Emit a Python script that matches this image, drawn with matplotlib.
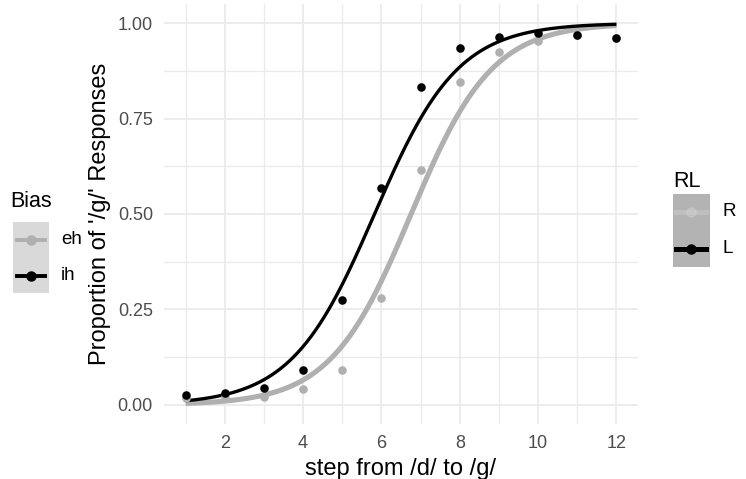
import numpy as np
import matplotlib
matplotlib.use("Agg")
import matplotlib.pyplot as plt
from matplotlib.patches import Rectangle
from matplotlib.lines import Line2D

plt.rcParams['font.family'] = ['Liberation Sans', 'DejaVu Sans']

# proportions of /g/ responses at each continuum step
steps = np.arange(1, 13)
prop_ih = [0.026, 0.031, 0.044, 0.092, 0.275, 0.567, 0.832, 0.934, 0.964, 0.973, 0.970, 0.962]
prop_eh = [0.018, 0.022, 0.022, 0.042, 0.092, 0.279, 0.615, 0.846, 0.925, 0.954, 0.968, 0.960]

bias_labels = ["eh", "ih"]
rl_labels = ["R", "L"]

GREY = "#b0b0b0"
BLACK = "#000000"


def fit_logistic(x, p, n_iter=50):
    # binomial glm (logit link) on proportions, IRLS
    x = np.asarray(x, float)
    p = np.asarray(p, float)
    X = np.column_stack([np.ones_like(x), x])
    beta = np.zeros(2)
    for _ in range(n_iter):
        eta = X @ beta
        mu = 1 / (1 + np.exp(-eta))
        w = mu * (1 - mu)
        z = eta + (p - mu) / w
        W = np.diag(w)
        beta = np.linalg.solve(X.T @ W @ X, X.T @ W @ z)
    return beta


xs = np.linspace(1, 12, 300)
b_eh = fit_logistic(steps, prop_eh)
b_ih = fit_logistic(steps, prop_ih)
curve_eh = 1 / (1 + np.exp(-(b_eh[0] + b_eh[1] * xs)))
curve_ih = 1 / (1 + np.exp(-(b_ih[0] + b_ih[1] * xs)))

fig = plt.figure(figsize=(7.46, 4.79), dpi=100)
ax = fig.add_axes([164 / 746, 1 - 424 / 479, (638 - 164) / 746, (424 - 4) / 479])

ax.plot(xs, curve_eh, color=GREY, lw=3.7, solid_capstyle='butt', zorder=3)
ax.plot(xs, curve_ih, color=BLACK, lw=2.4, solid_capstyle='butt', zorder=4)
ax.scatter(steps, prop_eh, s=38, color=GREY, lw=0, zorder=5)
ax.scatter(steps, prop_ih, s=38, color=BLACK, lw=0, zorder=6)

ax.set_xlim(0.45, 12.55)
ax.set_ylim(-0.05, 1.05)
ax.set_xticks([2, 4, 6, 8, 10, 12])
ax.set_xticks(np.arange(1, 13, 2), minor=True)
ax.set_yticks([0, 0.25, 0.5, 0.75, 1.0])
ax.set_yticklabels(["0.00", "0.25", "0.50", "0.75", "1.00"])
ax.set_yticks([0.125, 0.375, 0.625, 0.875], minor=True)
ax.grid(True, which='major', color='#ebebeb', lw=1.3)
ax.grid(True, which='minor', color='#ebebeb', lw=1.0)
ax.set_axisbelow(True)
for s in ax.spines.values():
    s.set_visible(False)
ax.tick_params(which='both', length=0, pad=8, labelsize=13, labelcolor='#4d4d4d')

ax.set_xlabel("step from /d/ to /g/", fontsize=17, labelpad=4)
ax.set_ylabel("Proportion of '/g/' Responses", fontsize=17, labelpad=5)


def px(x, y):
    return x / 746, 1 - y / 479


# Bias legend (left)
fig.text(*px(10, 207), "Bias", fontsize=15.5, va='baseline', ha='left')
x0, y0 = px(12.7, 293)
fig.patches.append(Rectangle((x0, y0), 36.6 / 746, 71.3 / 479, transform=fig.transFigure,
                             facecolor='#d9d9d9', edgecolor='none'))
for lab, col, yy in zip(bias_labels, [GREY, BLACK], [240, 276]):
    xa, ya = px(17, yy)
    xb, _ = px(45, yy)
    fig.lines.append(Line2D([xa, xb], [ya, ya], transform=fig.transFigure, color=col, lw=2.8))
    fig.lines.append(Line2D([(xa + xb) / 2], [ya], transform=fig.transFigure, color=col,
                            marker='o', ms=6.5, lw=0))
    fig.text(*px(61, yy), lab, fontsize=13.5, va='center', ha='left')

# RL legend (right)
fig.text(*px(673, 187), "RL", fontsize=15.5, va='baseline', ha='left')
x0, y0 = px(672.7, 267)
fig.patches.append(Rectangle((x0, y0), 37.3 / 746, 73 / 479, transform=fig.transFigure,
                             facecolor='#b3b3b3', edgecolor='none'))
for lab, col, alpha, yy in zip(rl_labels, ['#d8d8d8', BLACK], [0.35, 1.0], [212, 249]):
    xa, ya = px(676, yy)
    xb, _ = px(706, yy)
    fig.lines.append(Line2D([xa, xb], [ya, ya], transform=fig.transFigure, color=col,
                            lw=3.6, alpha=alpha))
    fig.lines.append(Line2D([(xa + xb) / 2], [ya], transform=fig.transFigure, color=col,
                            marker='o', ms=6.5, lw=0, alpha=alpha))
    fig.text(*px(722, yy), lab, fontsize=13.5, va='center', ha='left')

fig.savefig("out.png", dpi=100)
